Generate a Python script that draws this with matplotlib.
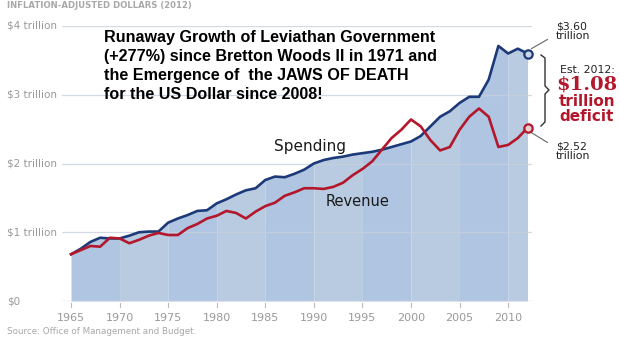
import numpy as np
import matplotlib
matplotlib.use('Agg')
import matplotlib.pyplot as plt
import matplotlib.transforms as mtransforms

plt.rcParams.update({
    'font.family': ['Liberation Sans', 'DejaVu Sans'],
})

years = np.arange(1965, 2013)
spending = [0.68, 0.76, 0.86, 0.92, 0.91, 0.91, 0.95, 1.00, 1.01, 1.01,
            1.14, 1.20, 1.25, 1.31, 1.32, 1.42, 1.48, 1.55, 1.61, 1.64,
            1.76, 1.81, 1.80, 1.85, 1.91, 2.00, 2.05, 2.08, 2.10, 2.13,
            2.15, 2.17, 2.20, 2.24, 2.28, 2.32, 2.40, 2.54, 2.68, 2.76,
            2.88, 2.97, 2.97, 3.22, 3.71, 3.60, 3.67, 3.60]
revenue = [0.68, 0.74, 0.80, 0.79, 0.92, 0.91, 0.84, 0.89, 0.95, 0.99,
           0.96, 0.96, 1.06, 1.12, 1.20, 1.24, 1.31, 1.28, 1.20, 1.30,
           1.38, 1.43, 1.53, 1.58, 1.64, 1.64, 1.63, 1.66, 1.72, 1.83,
           1.92, 2.03, 2.20, 2.37, 2.49, 2.64, 2.54, 2.34, 2.19, 2.24,
           2.49, 2.68, 2.80, 2.68, 2.24, 2.27, 2.37, 2.52]
ytick_vals = [0, 1, 2, 3, 4]
ytick_labels = ['$0', '$1 trillion', '$2 trillion', '$3 trillion', '$4 trillion']
xtick_vals = list(range(1965, 2011, 5))

title = ("Runaway Growth of Leviathan Government\n"
         "(+277%) since Bretton Woods II in 1971 and\n"
         "the Emergence of  the JAWS OF DEATH\n"
         "for the US Dollar since 2008!")

navy = '#1d3a78'
red = '#b3172b'
gray = '#999999'

fig = plt.figure(figsize=(6.2, 3.41), dpi=100)
ax = fig.add_axes([62 / 620, 40 / 341, 470 / 620, 275 / 341])
ax.set_xlim(1964.07, 2012.46)
ax.set_ylim(0, 4)
for s in ax.spines.values():
    s.set_visible(False)
ax.set_yticks([])
ax.set_xticks([])

# shaded area under spending, with subtle 5-year bands
sp = np.array(spending)
band_cols = ['#b0c5e2', '#b8cbe1']
for i, start in enumerate(range(1965, 2012, 5)):
    end = min(start + 5, 2012)
    m = (years >= start) & (years <= end)
    ax.fill_between(years[m], 0, sp[m], color=band_cols[i % 2], lw=0, zorder=1)

# grid
for v in ytick_vals[1:]:
    ax.axhline(v, color='#c8d0dc', lw=0.9, zorder=2, alpha=0.8)
ax.axhline(0, color='#d0d0d0', lw=1.0, zorder=2)

ax.plot(years, spending, color=navy, lw=1.9, zorder=4, solid_joinstyle='round')
ax.plot(years, revenue, color=red, lw=1.9, zorder=4, solid_joinstyle='round')
ax.plot([2012], [spending[-1]], 'o', ms=6, mfc='#c9d6e8', mec=navy, mew=1.6, zorder=5, clip_on=False)
ax.plot([2012], [revenue[-1]], 'o', ms=6, mfc='#e8d0d4', mec=red, mew=1.6, zorder=5, clip_on=False)

# y labels at left edge of figure
trans_y = mtransforms.blended_transform_factory(fig.transFigure, ax.transData)
for v, lab in zip(ytick_vals, ytick_labels):
    ax.text(7 / 620, v, lab, transform=trans_y, ha='left', va='center',
            fontsize=7.5, color=gray, family='DejaVu Sans')

# x ticks
for x in xtick_vals:
    ax.plot([x, x], [-0.03, -0.09], color='#bbbbbb', lw=0.8, clip_on=False)
    ax.text(x, -0.25, str(x), ha='center', va='center', fontsize=8,
            color=gray, family='DejaVu Sans')

fig.text(7 / 620, 1 - 6 / 341, 'INFLATION-ADJUSTED DOLLARS (2012)', ha='left', va='center',
         fontsize=6.1, color='#a8a8a8', weight='bold', family='DejaVu Sans')
fig.text(7 / 620, 1 - 332 / 341, 'Source: Office of Management and Budget.', ha='left',
         va='center', fontsize=6.3, color='#a8a8a8', family='DejaVu Sans')

fig.text(104 / 620, 1 - 30 / 341, title, ha='left', va='top', fontsize=11.6,
         weight='bold', color='black', linespacing=1.33)

ax.text(1989.6, 2.25, 'Spending', ha='center', va='center', fontsize=11,
        color='#1a1a1a', family='DejaVu Sans')
ax.text(1994.5, 1.44, 'Revenue', ha='center', va='center', fontsize=10.5,
        color='#1a1a1a', family='DejaVu Sans')

# right side annotations
trans_fig = fig.transFigure
def fx(px):
    return px / 620
def fy(py):
    return 1 - py / 341

ax.annotate('', xy=(2012.15, spending[-1] + 0.05), xytext=(fx(550), fy(38)),
            textcoords=trans_fig, arrowprops=dict(arrowstyle='-', color='#666666', lw=0.8))
ax.annotate('', xy=(2012.15, revenue[-1] - 0.05), xytext=(fx(550), fy(144)),
            textcoords=trans_fig, arrowprops=dict(arrowstyle='-', color='#666666', lw=0.8))
fig.text(fx(556), fy(31), '$3.60\ntrillion', ha='left', va='center', fontsize=7.8,
         color='#222222', linespacing=0.95, family='DejaVu Sans')
fig.text(fx(556), fy(151), '$2.52\ntrillion', ha='left', va='center', fontsize=7.8,
         color='#222222', linespacing=0.95, family='DejaVu Sans')

# brace
bx = [fx(541), fx(545), fx(545), fx(549), fx(545), fx(545), fx(541)]
by = [fy(55), fy(58), fy(86), fy(90), fy(94), fy(122), fy(126)]
fig.add_artist(plt.Line2D(bx, by, transform=trans_fig, color='#333333', lw=1.0))

fig.text(fx(587), fy(70), 'Est. 2012:', ha='center', va='center', fontsize=7.8,
         color='#222222', family='DejaVu Sans')
fig.text(fx(587), fy(85), '$1.08', ha='center', va='center', fontsize=14,
         color=red, weight='bold', family='DejaVu Serif')
fig.text(fx(587), fy(101), 'trillion', ha='center', va='center', fontsize=11,
         color=red, weight='bold', family='DejaVu Sans')
fig.text(fx(587), fy(117), 'deficit', ha='center', va='center', fontsize=11,
         color=red, weight='bold', family='DejaVu Sans')

fig.savefig('out.png', dpi=100)
